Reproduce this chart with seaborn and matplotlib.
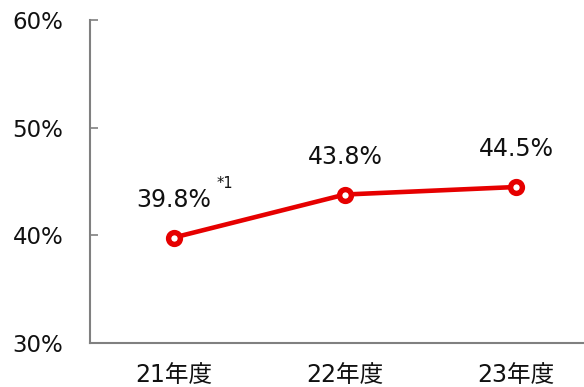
import matplotlib
matplotlib.use("Agg")
import matplotlib.pyplot as plt
import seaborn as sns
import pandas as pd

years = ["21年度", "22年度", "23年度"]
rates = [39.8, 43.8, 44.5]
labels = ["39.8%", "43.8%", "44.5%"]
yticks = [30, 40, 50, 60]

sns.set_style("white")
plt.rcParams['font.family'] = ['DejaVu Sans', 'Noto Sans CJK JP']

df = pd.DataFrame({"year": years, "rate": rates})

fig = plt.figure(figsize=(5.84, 3.87), dpi=100)
ax = fig.add_axes([0.154, 0.1137, 0.844, 0.834])

red = "#E60000"
sns.lineplot(data=df, x="year", y="rate", ax=ax, color=red, linewidth=3.3,
             marker="o", markersize=8.5, markerfacecolor="white",
             markeredgecolor=red, markeredgewidth=3.9)

for i, (v, t) in enumerate(zip(rates, labels)):
    ax.annotate(t, (i, v), xytext=(0, 27), textcoords="offset points",
                ha="center", va="center", fontsize=17, color="#111111")
ax.annotate("*1", (0, rates[0]), xytext=(36.5, 39), textcoords="offset points",
            ha="center", va="center", fontsize=10.5, color="#111111")

ax.set_ylim(30, 60)
ax.set_xlim(-0.49, 2.39)
ax.set_yticks(yticks)
ax.set_yticklabels([f"{y}%" for y in yticks])
ax.set_xlabel("")
ax.set_ylabel("")

for s in ["top", "right"]:
    ax.spines[s].set_visible(False)
for s in ["left", "bottom"]:
    ax.spines[s].set_color("#808080")
    ax.spines[s].set_linewidth(1.5)

ax.tick_params(axis="y", left=True, direction="in", length=6, width=1.2,
               color="#808080", labelsize=16.5, labelcolor="#111111", pad=19)
ax.tick_params(axis="x", bottom=False, labelsize=17, labelcolor="#111111", pad=11)

fig.savefig("out.png", dpi=100)
